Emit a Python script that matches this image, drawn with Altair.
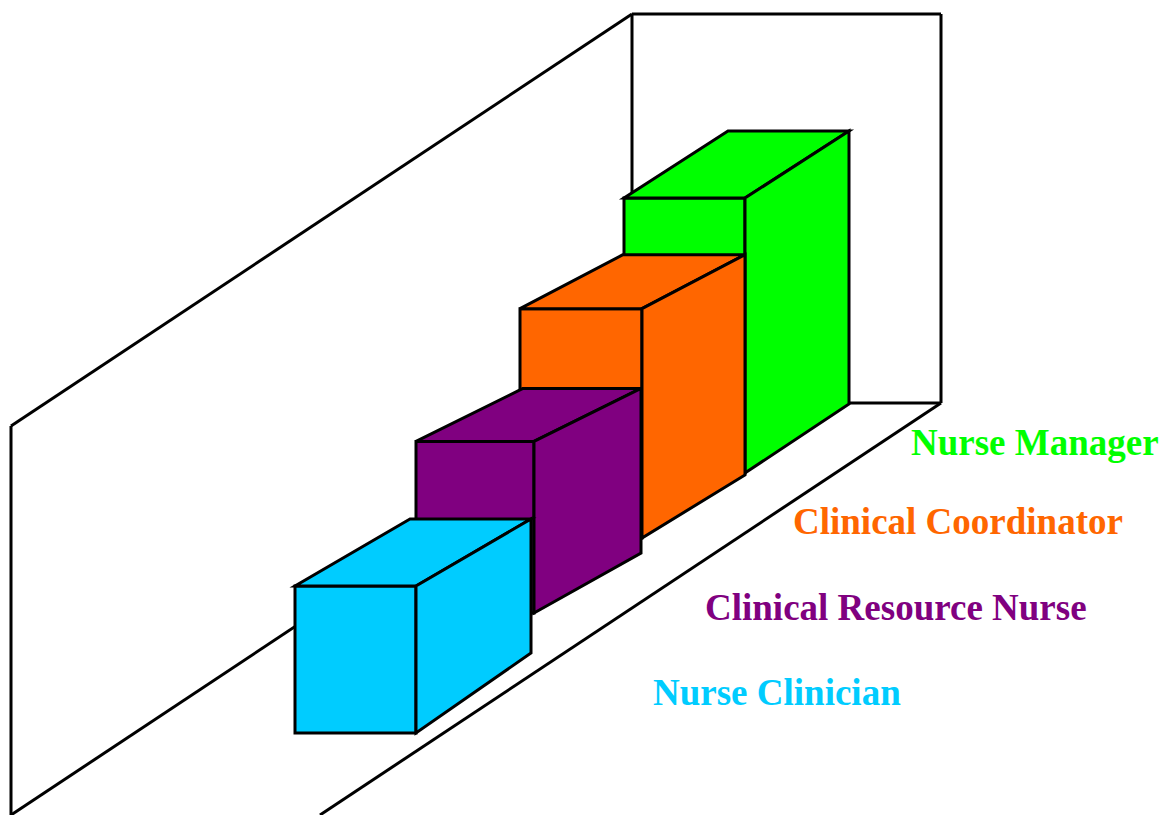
import altair as alt
import pandas as pd

# ---- data ----
categories = ["Nurse Clinician", "Clinical Resource Nurse", "Clinical Coordinator", "Nurse Manager"]
values = [37.7, 44.0, 58.8, 70.5]          # box heights, in % of the wall height
colors = ["#00CCFF", "#800080", "#FF6600", "#00FF00"]

# ---- layout (oblique projection of the scene) ----
WALL_PX = 390.0                              # wall height in px = 100 %
FRONT_LEFT = [295, 416, 520, 624]
FRONT_WIDTH = [121, 118, 122, 121]
BASE_Y = [733, 613, 538, 473]
DEPTH_DX = [115, 107, 103, 104]
DEPTH_DY = [-67, -53, -54, -67]
DEPTH_DY_BOTTOM = [-80, -60, -63, -69]
LABEL_X = [653, 705, 793, 911]
LABEL_Y = [705, 620, 534, 455]

ROOM_X0, ROOM_Y0 = 11, 815                   # front-bottom-left corner of the room
ROOM_W, ROOM_H = 309, 389
ROOM_DX, ROOM_DY = 621, -412

W_TOTAL, H_TOTAL = 1154, 807
xs = alt.Scale(domain=[8, 8 + W_TOTAL], nice=False, zero=False)
ys = alt.Scale(domain=[8, 8 + H_TOTAL], nice=False, zero=False, reverse=True)


def X(f):
    return alt.X(f, type="quantitative", scale=xs, axis=None)


def Y(f):
    return alt.Y(f, type="quantitative", scale=ys, axis=None)


# ---- room (walls and floor edges) ----
fx0, fy0 = ROOM_X0, ROOM_Y0
ftop = ROOM_Y0 - ROOM_H
bx0, by0 = fx0 + ROOM_DX, fy0 + ROOM_DY
btop = ftop + ROOM_DY
segs = [
    (fx0, ftop, fx0, fy0),                       # left wall front edge
    (fx0, ftop, bx0, btop),                      # left wall top edge
    (fx0, fy0, bx0, by0),                        # left wall bottom edge
    (bx0, btop, bx0 + ROOM_W, btop),             # back wall
    (bx0 + ROOM_W, btop, bx0 + ROOM_W, by0),
    (bx0, by0, bx0 + ROOM_W, by0),
    (bx0, btop, bx0, by0),
    (bx0 + ROOM_W, by0, fx0 + ROOM_W, fy0),      # floor front edge
]
room_df = pd.DataFrame(segs, columns=["x", "y", "x2", "y2"])
room = alt.Chart(room_df).mark_rule(color="black", strokeWidth=3).encode(
    x=X("x"), y=Y("y"), x2="x2", y2="y2"
)

layers = [room]

# ---- boxes, drawn from back to front ----
for i in reversed(range(len(categories))):
    h = values[i] / 100.0 * WALL_PX
    left = FRONT_LEFT[i]
    right = left + FRONT_WIDTH[i]
    base = BASE_Y[i]
    top = base - h
    dx, dy, dyb = DEPTH_DX[i], DEPTH_DY[i], DEPTH_DY_BOTTOM[i]
    style = dict(fill=colors[i], stroke="black", strokeWidth=3, strokeJoin="miter")

    front_df = pd.DataFrame({"x": [left], "x2": [right], "y": [top], "y2": [base], "cat": [categories[i]]})
    front = alt.Chart(front_df).mark_rect(**style).encode(x=X("x"), x2="x2", y=Y("y"), y2="y2")

    top_df = pd.DataFrame({
        "y": [top, top + dy],
        "x": [left, left + dx],
        "x2": [right, right + dx],
    })
    topf = alt.Chart(top_df).mark_area(orient="horizontal", **style).encode(
        y=Y("y"), x=X("x"), x2="x2"
    )

    side_df = pd.DataFrame({
        "x": [right, right + dx],
        "y": [top, top + dy],
        "y2": [base, base + dyb],
    })
    side = alt.Chart(side_df).mark_area(orient="vertical", **style).encode(
        x=X("x"), y=Y("y"), y2="y2"
    )
    layers += [front, topf, side]

# ---- labels ----
lab_df = pd.DataFrame({"label": categories, "color": colors, "x": LABEL_X, "y": LABEL_Y})
labels = alt.Chart(lab_df).mark_text(
    align="left", baseline="alphabetic", font="Liberation Serif", fontWeight="bold", fontSize=37
).encode(x=X("x"), y=Y("y"), text="label:N", color=alt.Color("color:N", scale=None, legend=None))
layers.append(labels)

chart = alt.layer(*layers).properties(
    width=W_TOTAL, height=H_TOTAL, padding=0,
    autosize=alt.AutoSizeParams(type="none"),
).configure_view(stroke=None)

chart.save("out.html", embed_options={"renderer": "svg", "actions": False})
